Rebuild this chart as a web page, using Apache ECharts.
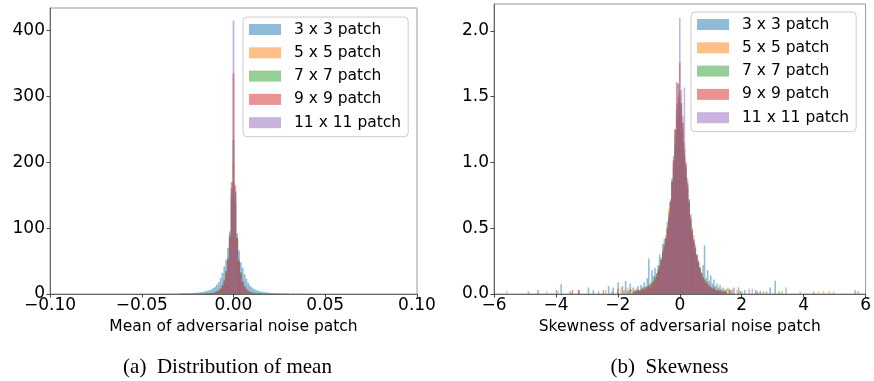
<!DOCTYPE html>
<html>
<head>
<meta charset="utf-8">
<script src="https://cdn.jsdelivr.net/npm/echarts@6/dist/echarts.min.js"></script>
<style>
  html, body { margin: 0; padding: 0; background: #fff; }
  #chart { width: 874px; height: 381px; }
</style>
</head>
<body>
<div id="chart"></div>
<script>
// series names + colours (matplotlib tab10 at alpha 0.5)
const patchNames = ['3 x 3 patch', '5 x 5 patch', '7 x 7 patch', '9 x 9 patch', '11 x 11 patch'];
const patchColors = ['rgba(31,119,180,0.5)', 'rgba(255,127,14,0.5)', 'rgba(44,160,44,0.5)', 'rgba(214,39,40,0.5)', 'rgba(148,103,189,0.5)'];

// (a) mean histogram: bins of 0.001 starting at -0.030 (counts)
const meanBinStart = -0.030;
const meanBinWidth = 0.001;
const meanBlue = [0.8,0.9,1.0,1.1,1.1,1.2,1.4,1.5,1.6,1.8, 2.0,2.2,2.6,3.0,3.5,4.2,5,6,7,9, 11,14,18,24,32,42,52,70,95,140,
  170,
  135,92,66,48,40,30,23,17,13,10, 8,6.5,5.5,4.5,3.8,3.2,2.8,2.4,2.0,1.8, 1.6,1.5,1.3,1.2,1.1,1.0,0.9,0.8,0.8,0.7];
const meanOrange = [0,0,0,0,0, 0.1,0.1,0.1,0.2,0.2, 0.2,0.3,0.3,0.4,0.5, 0.6,0.8,1.0,1.3,1.8, 2.5,3.5,5,8,12, 20,34,52,88,150,
  200,
  145,85,50,32,19,12,7.5,5,3.2,2.3, 1.7,1.2,1.0,0.8,0.6, 0.5,0.4,0.3,0.3,0.2, 0.2,0.1,0.1,0.1,0, 0,0,0,0,0];
const meanGreen = [0,0,0,0,0,0,0,0.1,0.1,0.1, 0.2,0.2,0.3,0.4,0.5,0.7,0.9,1.2,1.6,2.2, 3,4,6,9,14,22,36,55,90,160,
  234,
  155,86,52,33,20,13,8,5.5,3.6,2.6, 1.9,1.4,1.0,0.8,0.6, 0.4,0.3,0.3,0.2,0.1, 0.1,0.1,0,0,0, 0,0,0,0,0];
const meanRed = [0,0,0,0,0,0,0,0,0.1,0.1, 0.1,0.2,0.2,0.3,0.4,0.5,0.7,0.9,1.2,1.7, 2.4,3.4,5,7.5,12,19,32,50,85,170,
  335,
  165,84,48,30,18,11,7,4.5,3,2.1, 1.5,1.1,0.8,0.6,0.4, 0.3,0.2,0.2,0.1,0.1, 0.1,0,0,0,0, 0,0,0,0,0];
const meanPurple = [0,0,0,0,0,0,0,0,0,0.1, 0.1,0.1,0.2,0.2,0.3,0.4,0.5,0.7,1.0,1.4, 2,3,4.5,7,11,17,29,46,80,160,
  415,
  155,78,45,28,16,10,6.5,4,2.8,1.9, 1.3,1.0,0.7,0.5,0.4, 0.3,0.2,0.1,0.1,0.1, 0,0,0,0,0, 0,0,0,0,0];
// thin far tails of the 3x3 histogram [bin centre, count]
const meanBlueTail = [[-0.039,0.4],[-0.037,0.5],[-0.035,0.5],[-0.034,0.6],[-0.032,0.6],[0.032,0.6],[0.033,0.5],[0.035,0.5],[0.037,0.4],[0.039,0.4]];

// (b) skewness histogram: bins of 0.05 starting at -1.5 (density)
const skewBinStart = -1.5;
const skewBinWidth = 0.05;
const skewBlue = [0.05,0.02,0.04,0.06,0.03,0.07,0.05,0.09,0.06,0.12, 0.27,0.08,0.18,0.14,0.20,0.16,0.22,0.30,0.26,0.38,
  0.42,0.40,0.55,0.62,0.70,0.88,0.95,1.10,1.20,1.30, 1.35,1.25,1.15,1.05,0.90,0.80,0.71,0.55,0.45,0.40,
  0.33,0.30,0.24,0.20,0.16,0.22,0.37,0.12,0.18,0.10, 0.14,0.08,0.11,0.06,0.08,0.05,0.07,0.04,0.05,0.03, 0.04];
const skewOrange = [0.02,0.03,0.01,0.04,0.02,0.03,0.05,0.03,0.04,0.06, 0.05,0.08,0.07,0.10,0.12,0.14,0.17,0.20,0.25,0.30,
  0.36,0.45,0.52,0.65,0.70,0.85,1.00,1.15,1.35,1.45, 1.50,1.40,1.30,1.15,1.00,0.85,0.72,0.61,0.50,0.45,
  0.38,0.30,0.26,0.21,0.17,0.14,0.12,0.10,0.08,0.07, 0.06,0.05,0.06,0.04,0.03,0.04,0.02,0.03,0.02,0.03, 0.02];
const skewGreen = [0.01,0.02,0.03,0.02,0.03,0.04,0.03,0.05,0.04,0.06, 0.07,0.06,0.09,0.10,0.13,0.15,0.19,0.22,0.28,0.33,
  0.38,0.42,0.50,0.60,0.72,0.86,1.05,1.25,1.40,1.60, 1.55,1.45,1.25,1.05,0.95,0.82,0.70,0.58,0.48,0.40,
  0.34,0.28,0.24,0.20,0.16,0.13,0.11,0.09,0.08,0.06, 0.05,0.04,0.05,0.03,0.03,0.02,0.03,0.02,0.01,0.02, 0.01];
const skewRed = [0.01,0.02,0.01,0.03,0.02,0.02,0.04,0.03,0.05,0.04, 0.06,0.05,0.08,0.09,0.11,0.13,0.17,0.21,0.26,0.31,
  0.36,0.43,0.50,0.58,0.70,0.85,1.02,1.25,1.61,1.50, 1.76,1.45,1.30,1.10,0.98,0.84,0.70,0.57,0.48,0.41,
  0.35,0.29,0.24,0.19,0.15,0.12,0.10,0.09,0.07,0.06, 0.05,0.04,0.04,0.03,0.02,0.03,0.02,0.02,0.01,0.02, 0.01];
const skewPurple = [0.01,0.01,0.02,0.01,0.02,0.03,0.02,0.03,0.04,0.03, 0.05,0.06,0.07,0.08,0.10,0.12,0.15,0.19,0.24,0.29,
  0.35,0.40,0.48,0.57,0.68,0.82,1.00,1.20,1.45,1.60, 2.10,1.55,1.35,1.57,1.00,0.88,0.72,0.60,0.50,0.42,
  0.36,0.30,0.25,0.20,0.16,0.13,0.10,0.08,0.07,0.06, 0.05,0.04,0.03,0.04,0.02,0.02,0.03,0.01,0.02,0.01, 0.01];
// sparse outlier bins [bin centre, density]
const skewBlueOut = [[-3.98,0.03],[-3.83,0.075],[-3.25,0.03],[-2.95,0.05],[-2.79,0.03],[-2.47,0.03],[-2.3,0.06],[-2.15,0.05],[-1.99,0.09],[-1.85,0.06],[-1.75,0.10],[-1.6,0.08],[1.6,0.04],[1.75,0.05],[1.9,0.05],[2.1,0.03],[2.45,0.03],[2.92,0.05],[3.08,0.10],[5.66,0.03]];
const skewOrangeOut = [[-5.59,0.02],[-4.3,0.02],[-3.93,0.02],[-2.4,0.03],[-1.9,0.05],[-1.7,0.05],[-1.55,0.04],[1.55,0.05],[1.7,0.04],[1.85,0.03],[2.6,0.02],[3.89,0.02],[4.48,0.02],[4.64,0.02],[4.82,0.02],[4.97,0.02]];
const skewGreenOut = [[-4.89,0.02],[-3.54,0.02],[-2.62,0.02],[-1.8,0.03],[-1.6,0.04],[1.6,0.03],[2.0,0.02],[2.7,0.02],[3.2,0.02],[3.3,0.02],[4.32,0.02],[5.76,0.02]];
const skewRedOut = [[-4.58,0.03],[-3.47,0.03],[-3.27,0.03],[-2.0,0.04],[-1.65,0.03],[1.65,0.03],[1.95,0.02],[2.5,0.02],[2.8,0.02]];
const skewPurpleOut = [[-2.2,0.02],[-1.7,0.02],[1.7,0.02],[2.24,0.04],[2.34,0.04],[2.6,0.02],[3.43,0.05]];

// axis ticks
const meanTicks = [-0.1, -0.05, 0, 0.05, 0.1];
const countTicks = [0, 100, 200, 300, 400];
const skewTicks = [-6, -4, -2, 0, 2, 4, 6];
const densityTicks = [0, 0.5, 1.0, 1.5, 2.0];

const minus = s => s.replace('-', '\u2212');

function binned(counts, start, width, extra) {
  const pts = counts.map((c, i) => [start + i * width, c]);
  return extra ? pts.concat(extra) : pts;
}

function binRenderer(width) {
  return function (params, api) {
    const x = api.value(0);
    const y = api.value(1);
    const top = api.coord([x - width / 2, y]);
    const bot = api.coord([x + width / 2, 0]);
    return {
      type: 'rect',
      shape: { x: top[0], y: top[1], width: bot[0] - top[0], height: bot[1] - top[1] },
      style: { fill: api.visual('color') }
    };
  };
}

const meanSets = [binned(meanBlue, meanBinStart, meanBinWidth, meanBlueTail), binned(meanOrange, meanBinStart, meanBinWidth),
  binned(meanGreen, meanBinStart, meanBinWidth), binned(meanRed, meanBinStart, meanBinWidth), binned(meanPurple, meanBinStart, meanBinWidth)];
const skewSets = [binned(skewBlue, skewBinStart, skewBinWidth, skewBlueOut), binned(skewOrange, skewBinStart, skewBinWidth, skewOrangeOut),
  binned(skewGreen, skewBinStart, skewBinWidth, skewGreenOut), binned(skewRed, skewBinStart, skewBinWidth, skewRedOut),
  binned(skewPurple, skewBinStart, skewBinWidth, skewPurpleOut)];

const nameFont = { color: '#000', fontSize: 15.5, fontFamily: 'DejaVu Sans' };

function tickOpts(ticks) {
  return { show: true, length: 3.5, customValues: ticks, lineStyle: { color: '#444' } };
}

function labelOpts(ticks, margin, fmt) {
  return { show: true, margin: margin, customValues: ticks, formatter: fmt,
    color: '#000', fontSize: 17, fontFamily: 'DejaVu Sans' };
}

const axisLine = { show: true, onZero: false, lineStyle: { color: '#666', width: 1 } };

function legendAt(left, top) {
  return {
    left: left, top: top,
    orient: 'vertical',
    data: patchNames,
    icon: 'rect',
    itemWidth: 32, itemHeight: 11, itemGap: 7.3,
    padding: [4.5, 7, 6, 6],
    backgroundColor: 'rgba(255,255,255,0.8)',
    borderColor: '#ccc', borderWidth: 1, borderRadius: 4,
    selectedMode: false,
    textStyle: { color: '#000', fontSize: 15.5, fontFamily: 'DejaVu Sans', lineHeight: 16, padding: [0, 0, 0, 8] }
  };
}

const chart = echarts.init(document.getElementById('chart'), null, { renderer: 'canvas' });

const series = [];
meanSets.forEach((d, k) => series.push({
  type: 'custom', name: patchNames[k], xAxisIndex: 0, yAxisIndex: 0,
  itemStyle: { color: patchColors[k] }, renderItem: binRenderer(meanBinWidth),
  encode: { x: 0, y: 1 }, data: d, silent: true
}));
skewSets.forEach((d, k) => series.push({
  type: 'custom', name: patchNames[k], xAxisIndex: 1, yAxisIndex: 1,
  itemStyle: { color: patchColors[k] }, renderItem: binRenderer(skewBinWidth),
  encode: { x: 0, y: 1 }, data: d, silent: true
}));

chart.setOption({
  animation: false,
  backgroundColor: '#fff',
  grid: [
    { left: 50, top: 8, width: 367, height: 286, show: true, borderColor: '#999', borderWidth: 1, containLabel: false },
    { left: 494, top: 4, width: 374, height: 290, show: true, borderColor: '#999', borderWidth: 1, containLabel: false }
  ],
  xAxis: [
    {
      type: 'value', gridIndex: 0, min: -0.1, max: 0.1,
      name: 'Mean of adversarial noise patch', nameLocation: 'middle', nameGap: 24, nameTextStyle: nameFont,
      axisLine: axisLine, splitLine: { show: false },
      axisTick: tickOpts(meanTicks),
      axisLabel: labelOpts(meanTicks, 3, v => minus(v.toFixed(2)))
    },
    {
      type: 'value', gridIndex: 1, min: -6, max: 6, interval: 2,
      name: 'Skewness of adversarial noise patch', nameLocation: 'middle', nameGap: 24, nameTextStyle: nameFont,
      axisLine: axisLine, splitLine: { show: false },
      axisTick: tickOpts(skewTicks),
      axisLabel: labelOpts(skewTicks, 3, v => minus(String(v)))
    }
  ],
  yAxis: [
    {
      type: 'value', gridIndex: 0, min: 0, max: 434,
      axisLine: axisLine, splitLine: { show: false },
      axisTick: tickOpts(countTicks),
      axisLabel: labelOpts(countTicks, 5, v => String(v))
    },
    {
      type: 'value', gridIndex: 1, min: 0, max: 2.205,
      axisLine: axisLine, splitLine: { show: false },
      axisTick: tickOpts(densityTicks),
      axisLabel: labelOpts(densityTicks, 5, v => v.toFixed(1))
    }
  ],
  legend: [legendAt(243, 17), legendAt(691, 12)],
  graphic: [
    { type: 'text', style: { text: '(a)  Distribution of mean', x: 227.5, y: 367, align: 'center', verticalAlign: 'middle', font: '21px "Liberation Serif"', fill: '#000' } },
    { type: 'text', style: { text: '(b)  Skewness', x: 669.5, y: 367, align: 'center', verticalAlign: 'middle', font: '21px "Liberation Serif"', fill: '#000' } }
  ],
  series: series
});
</script>
</body>
</html>
